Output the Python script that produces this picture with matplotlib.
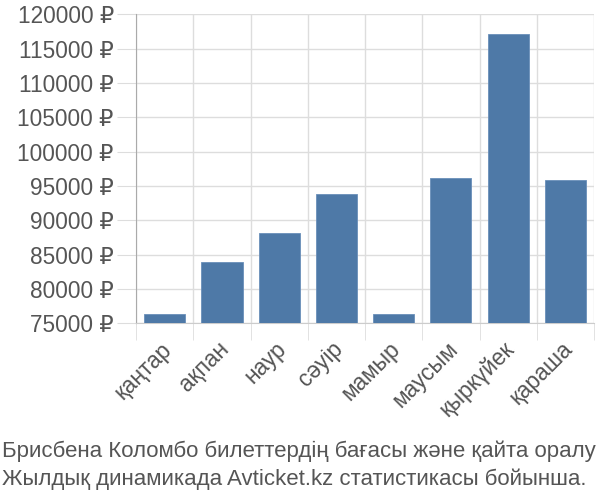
import matplotlib
matplotlib.use('Agg')
import matplotlib.pyplot as plt
import matplotlib.transforms as mtransforms
import numpy as np

plt.rcParams['font.family'] = ['Liberation Sans', 'DejaVu Sans']

# Данные
months = ['қаңтар', 'ақпан', 'наур', 'сәуір', 'мамыр', 'маусым', 'қыркүйек', 'қараша']
prices = [76350, 83970, 88100, 93800, 76300, 96200, 117120, 95820]
yticks = list(range(75000, 120001, 5000))
caption = ['Брисбена Коломбо билеттердің бағасы және қайта оралу',
           'Жылдық динамикада Avticket.kz статистикасы бойынша.']

fig = plt.figure(figsize=(6, 5), dpi=100)
ax = fig.add_axes([0.2267, 0.3534, 0.7633, 0.618])

x = np.arange(len(months))
ax.bar(x, prices, width=0.72, color='#4e79a7', edgecolor='#6a8fba', linewidth=0.6, zorder=3)

ax.set_xlim(-0.5, len(months) - 0.5)
ax.set_ylim(75000, 120000)
ax.set_yticks(yticks)
ax.set_yticklabels([f'{v} ₽' for v in yticks])
ax.set_xticks(x)
ax.set_xticklabels(months, rotation=45, ha='right', rotation_mode='anchor')
ax.set_xticks(np.arange(-0.5, len(months)), minor=True)

ax.grid(axis='y', color='#dddddd', linewidth=1, zorder=0)
ax.grid(axis='x', which='minor', color='#dddddd', linewidth=1, zorder=0)
ax.tick_params(axis='y', length=14, color='#dddddd', pad=2, labelsize=16.3, labelcolor='#555555')
ax.tick_params(axis='x', which='major', length=0, pad=6, labelsize=16.3, labelcolor='#555555')
ax.tick_params(axis='x', which='minor', length=12, color='#dddddd')

# сдвиг подписей месяцев
off = mtransforms.ScaledTranslation(-5 / 100, -6 / 100, fig.dpi_scale_trans)
for lbl in ax.get_xticklabels():
    lbl.set_transform(lbl.get_transform() + off)

for s in ['top', 'right']:
    ax.spines[s].set_visible(False)
ax.spines['left'].set_color('#aaaaaa')
ax.spines['bottom'].set_color('#cccccc')

fig.text(0.003, 0.087, caption[0], fontsize=16, color='#555555', ha='left')
fig.text(0.003, 0.031, caption[1], fontsize=16, color='#555555', ha='left')

fig.savefig('out.png', dpi=100)
